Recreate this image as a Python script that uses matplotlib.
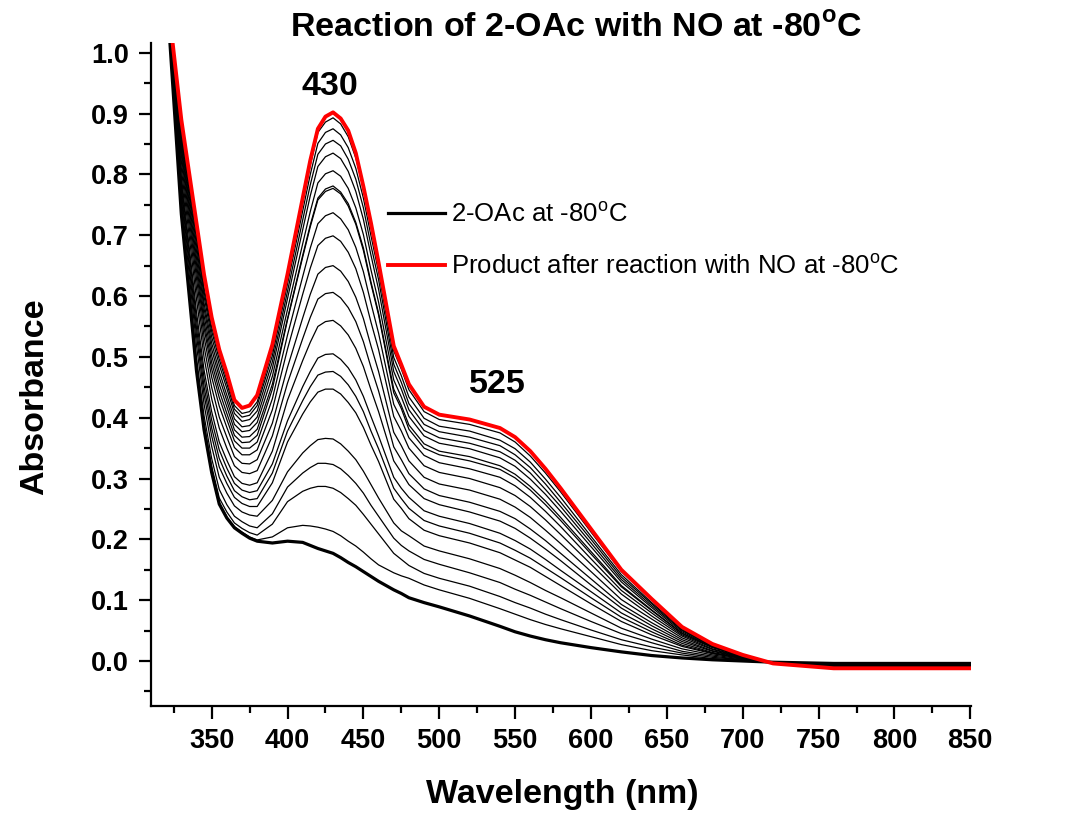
#!/usr/bin/env python3
import matplotlib
matplotlib.use("Agg")
import matplotlib.pyplot as plt
from matplotlib.ticker import MultipleLocator, FormatStrFormatter

# wavelength grid (nm) shared by every spectrum
wavelength = [320, 330, 340, 345, 350, 355, 360, 365, 370, 375,
              380, 390, 400, 410, 415, 420, 425, 430, 435, 440,
              445, 450, 455, 460, 470, 475, 480, 490, 500, 520,
              540, 550, 560, 570, 580, 600, 620, 640, 660, 680,
              700, 720, 760, 850]

# 2-OAc at -80 C (first scan, thick black)
start_abs = [1.11, 0.735, 0.477, 0.380, 0.310, 0.258, 0.235, 0.219, 0.210, 0.202,
             0.197, 0.194, 0.197, 0.195, 0.190, 0.185, 0.181, 0.177, 0.170, 0.162,
             0.155, 0.147, 0.139, 0.131, 0.117, 0.111, 0.104, 0.096, 0.089, 0.074,
             0.057, 0.048, 0.041, 0.035, 0.030, 0.022, 0.015, 0.009, 0.005, 0.002,
             0.000, -0.002, -0.004, -0.004]

# product after reaction with NO (last scan, red)
final_abs = [1.11, 0.890, 0.720, 0.635, 0.565, 0.512, 0.473, 0.429, 0.416, 0.420,
             0.437, 0.520, 0.636, 0.761, 0.823, 0.875, 0.895, 0.902, 0.892, 0.872,
             0.835, 0.780, 0.720, 0.655, 0.518, 0.487, 0.455, 0.418, 0.405, 0.397,
             0.383, 0.368, 0.345, 0.316, 0.284, 0.217, 0.150, 0.102, 0.056, 0.028,
             0.010, -0.004, -0.012, -0.012]

# intermediate scans (thin black), lowest to highest
scan_abs = [
    [1.11, 0.737, 0.479, 0.382, 0.313, 0.261, 0.237, 0.221, 0.212, 0.204, 0.199, 0.204, 0.219, 0.223, 0.222,
     0.220, 0.217, 0.213, 0.206, 0.197, 0.189, 0.179, 0.168, 0.158, 0.145, 0.140, 0.136, 0.125, 0.117, 0.103,
     0.086, 0.077, 0.068, 0.060, 0.053, 0.040, 0.027, 0.017, 0.010, 0.004, 0.001, -0.002, -0.005, -0.005],
    [1.11, 0.741, 0.487, 0.390, 0.320, 0.268, 0.245, 0.227, 0.218, 0.211, 0.207, 0.225, 0.262, 0.279, 0.284,
     0.287, 0.287, 0.284, 0.277, 0.267, 0.256, 0.241, 0.225, 0.209, 0.177, 0.167, 0.157, 0.144, 0.136, 0.123,
     0.106, 0.096, 0.087, 0.077, 0.068, 0.051, 0.035, 0.023, 0.013, 0.006, 0.002, -0.002, -0.005, -0.005],
    [1.11, 0.749, 0.499, 0.403, 0.333, 0.282, 0.257, 0.238, 0.229, 0.222, 0.219, 0.242, 0.286, 0.309, 0.318,
     0.325, 0.325, 0.323, 0.316, 0.305, 0.292, 0.276, 0.256, 0.238, 0.202, 0.190, 0.181, 0.167, 0.159, 0.145,
     0.129, 0.118, 0.108, 0.097, 0.086, 0.065, 0.045, 0.030, 0.016, 0.008, 0.002, -0.002, -0.006, -0.006],
    [1.11, 0.762, 0.519, 0.422, 0.353, 0.302, 0.276, 0.255, 0.245, 0.240, 0.238, 0.264, 0.311, 0.342, 0.354,
     0.364, 0.366, 0.365, 0.357, 0.345, 0.331, 0.312, 0.290, 0.268, 0.227, 0.214, 0.206, 0.189, 0.181, 0.168,
     0.152, 0.141, 0.129, 0.116, 0.104, 0.079, 0.054, 0.036, 0.020, 0.010, 0.003, -0.003, -0.006, -0.006],
    [1.11, 0.772, 0.535, 0.438, 0.370, 0.319, 0.292, 0.269, 0.259, 0.254, 0.254, 0.293, 0.360, 0.406, 0.426,
     0.442, 0.447, 0.447, 0.439, 0.425, 0.408, 0.384, 0.355, 0.328, 0.266, 0.251, 0.234, 0.215, 0.206, 0.194,
     0.178, 0.166, 0.154, 0.139, 0.124, 0.094, 0.065, 0.043, 0.024, 0.012, 0.004, -0.003, -0.007, -0.007],
    [1.11, 0.780, 0.548, 0.451, 0.383, 0.333, 0.304, 0.280, 0.270, 0.265, 0.267, 0.309, 0.378, 0.428, 0.451,
     0.470, 0.475, 0.476, 0.468, 0.454, 0.435, 0.410, 0.378, 0.349, 0.284, 0.267, 0.251, 0.231, 0.222, 0.210,
     0.194, 0.182, 0.169, 0.153, 0.137, 0.104, 0.072, 0.048, 0.026, 0.013, 0.004, -0.003, -0.007, -0.007],
    [1.11, 0.789, 0.561, 0.465, 0.396, 0.347, 0.317, 0.292, 0.281, 0.277, 0.280, 0.324, 0.395, 0.451, 0.476,
     0.498, 0.504, 0.505, 0.496, 0.482, 0.462, 0.435, 0.402, 0.370, 0.302, 0.284, 0.269, 0.247, 0.238, 0.226,
     0.210, 0.198, 0.184, 0.167, 0.149, 0.114, 0.079, 0.053, 0.029, 0.014, 0.005, -0.003, -0.008, -0.008],
    [1.11, 0.797, 0.574, 0.478, 0.410, 0.360, 0.330, 0.303, 0.292, 0.289, 0.293, 0.345, 0.429, 0.494, 0.524,
     0.550, 0.558, 0.560, 0.551, 0.536, 0.514, 0.484, 0.446, 0.410, 0.329, 0.310, 0.290, 0.267, 0.257, 0.245,
     0.230, 0.218, 0.202, 0.184, 0.165, 0.125, 0.087, 0.058, 0.032, 0.016, 0.005, -0.003, -0.008, -0.008],
    [1.11, 0.810, 0.595, 0.499, 0.431, 0.383, 0.350, 0.321, 0.310, 0.308, 0.313, 0.370, 0.457, 0.530, 0.565,
     0.595, 0.604, 0.606, 0.597, 0.581, 0.558, 0.525, 0.483, 0.444, 0.352, 0.331, 0.308, 0.283, 0.272, 0.261,
     0.246, 0.234, 0.217, 0.198, 0.177, 0.135, 0.093, 0.063, 0.035, 0.017, 0.006, -0.003, -0.009, -0.009],
    [1.11, 0.822, 0.613, 0.517, 0.450, 0.401, 0.368, 0.336, 0.325, 0.324, 0.331, 0.391, 0.483, 0.564, 0.603,
     0.636, 0.647, 0.650, 0.641, 0.624, 0.598, 0.563, 0.518, 0.476, 0.376, 0.354, 0.329, 0.302, 0.291, 0.281,
     0.266, 0.253, 0.236, 0.215, 0.193, 0.147, 0.101, 0.069, 0.038, 0.019, 0.006, -0.003, -0.009, -0.009],
    [1.11, 0.832, 0.629, 0.533, 0.467, 0.419, 0.384, 0.351, 0.339, 0.339, 0.347, 0.413, 0.513, 0.603, 0.646,
     0.683, 0.695, 0.699, 0.690, 0.672, 0.645, 0.606, 0.557, 0.512, 0.402, 0.378, 0.350, 0.321, 0.310, 0.300,
     0.285, 0.272, 0.254, 0.232, 0.208, 0.159, 0.110, 0.074, 0.041, 0.020, 0.007, -0.003, -0.010, -0.010],
    [1.11, 0.840, 0.642, 0.547, 0.480, 0.433, 0.397, 0.362, 0.350, 0.350, 0.360, 0.431, 0.536, 0.632, 0.679,
     0.719, 0.732, 0.737, 0.727, 0.709, 0.680, 0.640, 0.588, 0.539, 0.422, 0.397, 0.367, 0.338, 0.326, 0.316,
     0.302, 0.288, 0.269, 0.246, 0.221, 0.168, 0.116, 0.079, 0.043, 0.022, 0.008, -0.004, -0.010, -0.010],
    [1.11, 0.847, 0.653, 0.557, 0.491, 0.444, 0.407, 0.371, 0.359, 0.360, 0.371, 0.447, 0.561, 0.664, 0.714,
     0.758, 0.772, 0.777, 0.768, 0.748, 0.718, 0.675, 0.620, 0.569, 0.441, 0.415, 0.381, 0.350, 0.339, 0.329,
     0.315, 0.301, 0.281, 0.257, 0.231, 0.176, 0.122, 0.083, 0.045, 0.023, 0.008, -0.004, -0.010, -0.010],
    [1.11, 0.854, 0.663, 0.568, 0.502, 0.455, 0.418, 0.380, 0.368, 0.369, 0.381, 0.455, 0.563, 0.667, 0.717,
     0.761, 0.776, 0.781, 0.771, 0.752, 0.721, 0.679, 0.623, 0.572, 0.447, 0.420, 0.388, 0.357, 0.345, 0.336,
     0.321, 0.307, 0.287, 0.263, 0.236, 0.180, 0.124, 0.084, 0.046, 0.023, 0.008, -0.004, -0.010, -0.010],
    [1.11, 0.861, 0.674, 0.579, 0.513, 0.466, 0.428, 0.389, 0.377, 0.379, 0.392, 0.468, 0.578, 0.686, 0.739,
     0.786, 0.801, 0.806, 0.797, 0.777, 0.745, 0.701, 0.643, 0.590, 0.462, 0.434, 0.402, 0.370, 0.358, 0.349,
     0.334, 0.320, 0.299, 0.274, 0.246, 0.188, 0.130, 0.088, 0.048, 0.024, 0.009, -0.004, -0.011, -0.011],
    [1.11, 0.867, 0.684, 0.588, 0.523, 0.476, 0.437, 0.398, 0.385, 0.387, 0.401, 0.481, 0.596, 0.709, 0.765,
     0.813, 0.829, 0.835, 0.826, 0.805, 0.772, 0.726, 0.667, 0.611, 0.476, 0.447, 0.413, 0.379, 0.367, 0.358,
     0.344, 0.330, 0.309, 0.282, 0.254, 0.194, 0.134, 0.091, 0.050, 0.025, 0.009, -0.004, -0.011, -0.011],
    [1.11, 0.873, 0.694, 0.599, 0.533, 0.487, 0.448, 0.407, 0.394, 0.397, 0.411, 0.492, 0.608, 0.725, 0.783,
     0.833, 0.850, 0.856, 0.847, 0.825, 0.792, 0.745, 0.683, 0.627, 0.488, 0.458, 0.423, 0.389, 0.377, 0.368,
     0.354, 0.339, 0.318, 0.291, 0.261, 0.200, 0.138, 0.094, 0.051, 0.026, 0.009, -0.004, -0.011, -0.011],
    [1.11, 0.879, 0.702, 0.607, 0.542, 0.496, 0.456, 0.414, 0.401, 0.404, 0.420, 0.502, 0.620, 0.740, 0.800,
     0.851, 0.869, 0.875, 0.865, 0.844, 0.810, 0.761, 0.699, 0.640, 0.499, 0.469, 0.434, 0.399, 0.386, 0.378,
     0.363, 0.349, 0.327, 0.299, 0.269, 0.205, 0.142, 0.096, 0.053, 0.026, 0.009, -0.004, -0.012, -0.012],
    [1.11, 0.883, 0.709, 0.614, 0.549, 0.504, 0.463, 0.420, 0.407, 0.410, 0.426, 0.511, 0.631, 0.754, 0.815,
     0.869, 0.886, 0.893, 0.883, 0.862, 0.827, 0.777, 0.713, 0.654, 0.510, 0.480, 0.446, 0.410, 0.397, 0.389,
     0.375, 0.360, 0.337, 0.309, 0.278, 0.212, 0.147, 0.100, 0.055, 0.027, 0.010, -0.004, -0.012, -0.012],
]

# band labels (nm, absorbance where the label sits)
band_labels = ["430", "525"]
band_x = [428, 538]
band_y = [0.945, 0.454]


def main() -> int:
    plt.rcParams["font.family"] = ["Liberation Sans", "DejaVu Sans"]
    plt.rcParams["mathtext.fontset"] = "custom"
    plt.rcParams["mathtext.rm"] = "Liberation Sans"
    plt.rcParams["mathtext.bf"] = "Liberation Sans:bold"

    fig = plt.figure(figsize=(10.73, 8.13), dpi=100)
    ax = fig.add_axes([0.1407, 0.1316, 0.7643, 0.8155])

    for row in scan_abs:
        ax.plot(wavelength, row, color="black", lw=0.9)
    ax.plot(wavelength, start_abs, color="black", lw=2.3, label=r"2-OAc at -80$^\mathrm{o}$C")
    ax.plot(wavelength, final_abs, color="red", lw=2.8,
            label=r"Product after reaction with NO at -80$^\mathrm{o}$C")

    for txt, bx, by in zip(band_labels, band_x, band_y):
        ax.text(bx, by, txt, ha="center", va="center", fontsize=24.5, fontweight="bold")

    ax.set_xlim(310, 850.5)
    ax.set_ylim(-0.074, 1.016)
    ax.xaxis.set_major_locator(MultipleLocator(50))
    ax.xaxis.set_minor_locator(MultipleLocator(25))
    ax.yaxis.set_major_locator(MultipleLocator(0.1))
    ax.yaxis.set_minor_locator(MultipleLocator(0.05))
    ax.yaxis.set_major_formatter(FormatStrFormatter("%.1f"))
    ax.set_xticks([350, 400, 450, 500, 550, 600, 650, 700, 750, 800, 850])

    for side in ("top", "right"):
        ax.spines[side].set_visible(False)
    for side in ("left", "bottom"):
        ax.spines[side].set_linewidth(1.6)
    ax.tick_params(which="major", direction="out", length=9, width=1.6, labelsize=19.5, pad=7)
    ax.tick_params(which="minor", direction="out", length=5, width=1.6)
    for lab in ax.get_xticklabels() + ax.get_yticklabels():
        lab.set_fontweight("bold")

    ax.set_xlabel("Wavelength (nm)", fontsize=24.5, fontweight="bold")
    ax.set_ylabel("Absorbance", fontsize=24.5, fontweight="bold")
    ax.xaxis.label.set_va("center")
    ax.yaxis.label.set_va("center")
    ax.xaxis.set_label_coords(0.501, -0.134)
    ax.yaxis.set_label_coords(-0.1415, 0.466)

    fig.text(0.537, 0.966, r"Reaction of 2-OAc with NO at -80$^\mathbf{o}$C",
             ha="center", va="center", fontsize=24.5, fontweight="bold")

    ax.legend(loc="upper left", bbox_to_anchor=(0.289, 0.76), frameon=False, fontsize=18.5,
              handlelength=2.2, handletextpad=0.27, labelspacing=1.05, borderaxespad=0,
              borderpad=0)

    fig.savefig("out.png", dpi=100)
    plt.close(fig)
    return 0


if __name__ == "__main__":
    raise SystemExit(main())
